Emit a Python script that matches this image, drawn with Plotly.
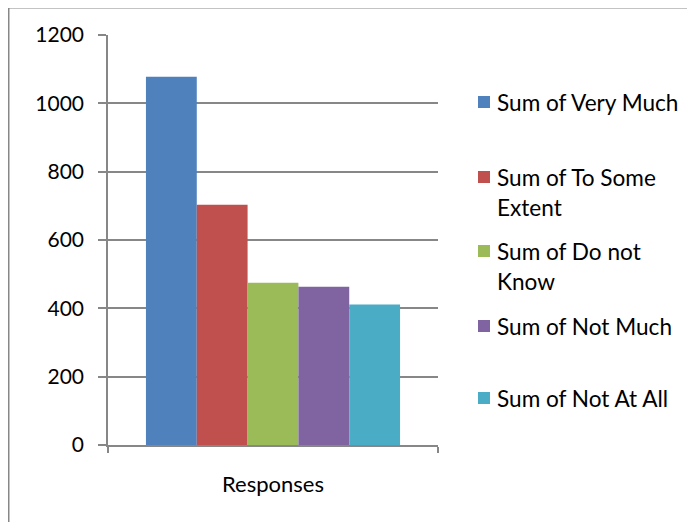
import plotly.graph_objects as go

category = ["Responses"]
series_names = ["Sum of Very Much", "Sum of To Some Extent", "Sum of Do not Know",
                "Sum of Not Much", "Sum of Not At All"]
legend_lines = [["Sum of Very Much"], ["Sum of To Some", "Extent"], ["Sum of Do not", "Know"],
                ["Sum of Not Much"], ["Sum of Not At All"]]
values = [1078, 703, 475, 463, 411]
colors = ["#4F81BD", "#C0504D", "#9BBB59", "#8064A2", "#4BACC6"]
y_ticks = [0, 200, 400, 600, 800, 1000, 1200]

# the page body adds an 8px offset; lay out in window pixels and subtract it
OFF = 8
W, H = 695 - OFF, 522 - OFF
L, R, T, B = 108 - OFF, 438 - OFF, 35 - OFF, 445 - OFF
FONT = "Lato"
GRAY = "#878787"

def px(x):
    return (x - OFF - L) / (R - L)

def py(y):
    return (B - (y - OFF)) / (B - T)

fig = go.Figure()
for name, v, c in zip(series_names, values, colors):
    fig.add_trace(go.Bar(x=category, y=[v], name=name, marker=dict(color=c, line=dict(width=0)),
                         showlegend=False))

shapes = [dict(type="rect", xref="paper", yref="paper",
               x0=px(8.5), x1=px(760), y0=py(7.5), y1=py(600),
               line=dict(color=GRAY, width=2), fillcolor="rgba(0,0,0,0)", layer="below")]
annotations = []
first_line = [102, 177, 251, 326, 398]
for lines, c, y0 in zip(legend_lines, colors, first_line):
    shapes.append(dict(type="rect", xref="paper", yref="paper",
                       x0=px(478), x1=px(490), y0=py(y0 - 6), y1=py(y0 + 6),
                       line=dict(width=0), fillcolor=c))
    for i, t in enumerate(lines):
        annotations.append(dict(text=t, xref="paper", yref="paper", x=px(495), y=py(y0 + 30 * i),
                                xanchor="left", yanchor="middle", showarrow=False,
                                font=dict(family=FONT, size=22.6, color="#000000")))

fig.update_layout(
    width=W, height=H,
    margin=dict(l=L, r=W - R, t=T, b=H - B, pad=0),
    paper_bgcolor="white", plot_bgcolor="white",
    barmode="group", bargap=0.23, bargroupgap=0,
    font=dict(family=FONT, size=21, color="#000000"),
    shapes=shapes, annotations=annotations,
    xaxis=dict(showline=True, linecolor=GRAY, linewidth=1.5, ticks="outside", tickson="boundaries",
               ticklen=6, tickcolor=GRAY, tickwidth=1.5, showgrid=False,
               tickfont=dict(family=FONT, size=22, color="#000000"), ticklabelstandoff=19),
    yaxis=dict(range=[0, 1200], tickvals=y_ticks, showline=True, linecolor=GRAY, linewidth=1.5,
               ticks="outside", ticklen=8, tickcolor=GRAY, tickwidth=1.5,
               showgrid=True, gridcolor=GRAY, gridwidth=1.5, zeroline=False,
               tickfont=dict(family=FONT, size=21, color="#000000"), ticklabelstandoff=10),
)

fig.write_html("out.html")
